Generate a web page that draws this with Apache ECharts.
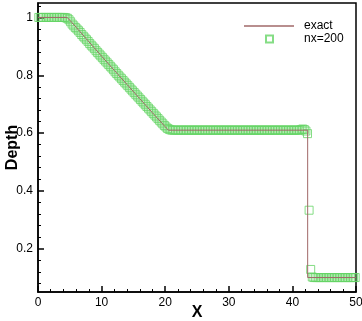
<!DOCTYPE html>
<html>
<head>
<meta charset="utf-8">
<script src="https://cdn.jsdelivr.net/npm/echarts@6/dist/echarts.min.js"></script>
<style>
  body { margin: 0; background: #fff; }
  #chart { width: 362px; height: 321px; }
</style>
</head>
<body>
<div id="chart"></div>
<script>
// exact solution (line)
var exactX = [0, 4.6, 6, 8, 10, 12, 14, 16, 18, 20.5, 42.4, 42.4, 50]
var exactH = [1, 1, 0.966, 0.916, 0.866, 0.817, 0.768, 0.719, 0.67, 0.61, 0.61, 0.1, 0.1]

// numerical solution, nx=200 cells on [0, 50]
var nx = 200
var xLength = 50
var numH = [
  1, 1, 1, 1, 1, 1, 1, 1, 1, 1,
  1, 1, 1, 1, 1, 1, 1, 0.999, 0.997, 0.992,
  0.985, 0.977, 0.971, 0.965, 0.96, 0.954, 0.948, 0.941, 0.935, 0.929,
  0.923, 0.917, 0.91, 0.904, 0.898, 0.892, 0.885, 0.879, 0.873, 0.867,
  0.861, 0.855, 0.849, 0.843, 0.837, 0.831, 0.825, 0.819, 0.812, 0.806,
  0.8, 0.794, 0.788, 0.782, 0.776, 0.77, 0.764, 0.758, 0.752, 0.746,
  0.74, 0.734, 0.728, 0.722, 0.716, 0.71, 0.704, 0.698, 0.692, 0.686,
  0.68, 0.674, 0.668, 0.662, 0.656, 0.65, 0.644, 0.638, 0.632, 0.626,
  0.621, 0.616, 0.613, 0.611, 0.61, 0.61, 0.61, 0.61, 0.61, 0.61,
  0.61, 0.61, 0.61, 0.61, 0.61, 0.61, 0.61, 0.61, 0.61, 0.61,
  0.61, 0.61, 0.61, 0.61, 0.61, 0.61, 0.61, 0.61, 0.61, 0.61,
  0.61, 0.61, 0.61, 0.61, 0.61, 0.61, 0.61, 0.61, 0.61, 0.61,
  0.61, 0.61, 0.61, 0.61, 0.61, 0.61, 0.61, 0.61, 0.61, 0.61,
  0.61, 0.61, 0.61, 0.61, 0.61, 0.61, 0.61, 0.61, 0.61, 0.61,
  0.61, 0.61, 0.61, 0.61, 0.61, 0.61, 0.61, 0.61, 0.61, 0.61,
  0.61, 0.61, 0.61, 0.61, 0.61, 0.61, 0.61, 0.61, 0.61, 0.61,
  0.61, 0.61, 0.61, 0.61, 0.61, 0.612, 0.614, 0.612, 0.607, 0.598,
  0.333, 0.128, 0.102, 0.1, 0.1, 0.1, 0.1, 0.1, 0.1, 0.1,
  0.1, 0.1, 0.1, 0.1, 0.1, 0.1, 0.1, 0.1, 0.1, 0.1,
  0.1, 0.1, 0.1, 0.1, 0.1, 0.1, 0.1, 0.1, 0.1, 0.1
]

var yMajor = [0.2, 0.4, 0.6, 0.8, 1]
var yMinor = [0.08, 0.12, 0.16, 0.24, 0.28, 0.32, 0.36, 0.44, 0.48, 0.52, 0.56,
  0.64, 0.68, 0.72, 0.76, 0.84, 0.88, 0.92, 0.96, 1.04]

var exactData = exactX.map(function (x, i) { return [x, exactH[i]] })
var dx = xLength / nx
var numData = numH.map(function (h, i) { return [dx * (i + 0.5), h] })

var font = 'Liberation Sans, Arial, sans-serif'
var chart = echarts.init(document.getElementById('chart'))

var option = {
  animation: false,
  grid: {
    left: 38,
    right: 6,
    top: 3,
    bottom: 29,
    outerBoundsMode: 'none',
    show: true,
    borderColor: '#000',
    borderWidth: 1.5
  },
  legend: [
    {
      data: [{ name: 'exact', icon: 'rect' }],
      left: 239,
      top: 15,
      itemWidth: 50,
      itemHeight: 1.5,
      itemStyle: { borderWidth: 0 },
      textStyle: { fontFamily: font, fontSize: 12, color: '#000', padding: [0, 0, 0, 5] }
    },
    {
      data: [{ name: 'nx=200', icon: 'rect' }],
      left: 260,
      top: 28,
      itemWidth: 7,
      itemHeight: 7,
      textStyle: { fontFamily: font, fontSize: 12, color: '#000', padding: [0, 0, 0, 26] }
    }
  ],
  xAxis: {
    type: 'value',
    min: 0,
    max: 50,
    interval: 10,
    name: 'X',
    nameLocation: 'middle',
    nameGap: 13,
    nameMoveOverlap: false,
    nameTextStyle: { fontFamily: font, fontSize: 16, fontWeight: 'bold', color: '#000' },
    axisLine: { onZero: false, lineStyle: { color: '#000', width: 1.5 } },
    axisTick: { inside: true, length: 6, lineStyle: { color: '#000', width: 1.5 } },
    minorTick: { show: true, splitNumber: 5, length: 3, lineStyle: { color: '#000' } },
    axisLabel: { margin: 5, fontFamily: font, fontSize: 12, color: '#000' },
    splitLine: { show: false }
  },
  yAxis: [
    {
      type: 'value',
      min: 0.05,
      max: 1.05,
      name: 'Depth',
      nameLocation: 'middle',
      nameGap: 17,
      nameMoveOverlap: false,
      nameTextStyle: { fontFamily: font, fontSize: 16, fontWeight: 'bold', color: '#000' },
      axisLine: { onZero: false, lineStyle: { color: '#000', width: 1.5 } },
      axisTick: { inside: true, length: 6, customValues: yMajor, lineStyle: { color: '#000', width: 1.5 } },
      axisLabel: { margin: 5, customValues: yMajor, fontFamily: font, fontSize: 12, color: '#000' },
      splitLine: { show: false }
    },
    {
      // minor ticks only
      type: 'value',
      position: 'left',
      min: 0.05,
      max: 1.05,
      axisLine: { show: false },
      axisTick: { inside: true, length: 3, customValues: yMinor, lineStyle: { color: '#000' } },
      axisLabel: { show: false },
      splitLine: { show: false }
    }
  ],
  series: [
    {
      name: 'nx=200',
      type: 'scatter',
      symbol: 'rect',
      symbolSize: 8,
      data: numData,
      z: 2,
      itemStyle: { color: 'rgba(0,0,0,0)', borderColor: '#66d466', borderWidth: 1 }
    },
    {
      name: 'exact',
      type: 'line',
      symbol: 'none',
      data: exactData,
      z: 3,
      color: '#a06868',
      lineStyle: { color: '#a06868', width: 1 }
    }
  ]
}
chart.setOption(option)
</script>
</body>
</html>
